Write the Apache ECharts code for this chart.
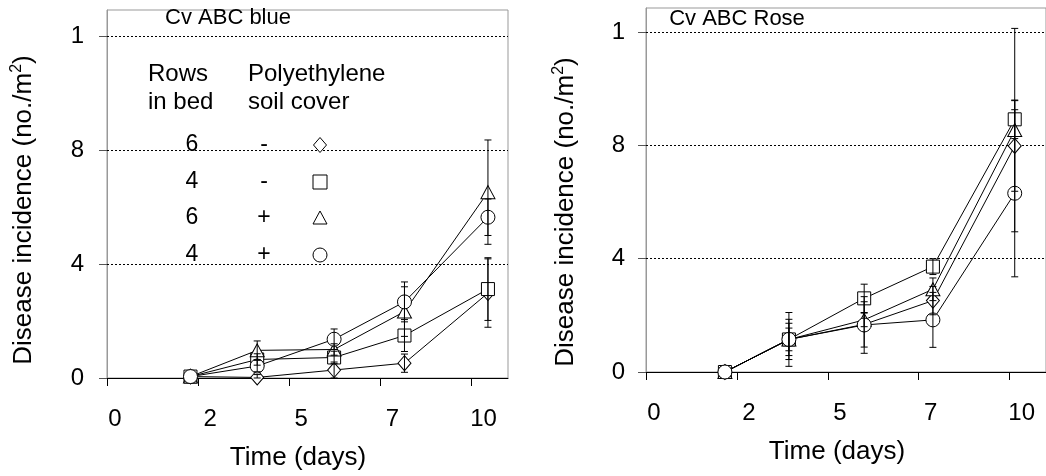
<!DOCTYPE html>
<html>
<head>
<meta charset="utf-8">
<script src="https://cdn.jsdelivr.net/npm/echarts@6/dist/echarts.min.js"></script>
<style>
html,body{margin:0;padding:0;background:#fff;}
#c{width:1046px;height:476px;}
</style>
</head>
<body>
<div id="c"></div>
<script>
// ---- tick labels ----
const xTickValues = [0, 2.5, 5, 7.5, 10];
const xTickLabels = ['0', '2', '5', '7', '10'];
const yTickValues = [0, 4, 8, 12];
const yTickLabels = ['0', '4', '8', '1'];
const gridValues = [4, 8, 12];

// ---- legend table ----
const legendRows = ['6', '4', '6', '4'];
const legendCover = ['-', '-', '+', '+'];
const seriesNames = ['6 rows, no cover', '4 rows, no cover', '6 rows, cover', '4 rows, cover'];

// ---- Cv ABC blue ----
const blueDays = [2.29, 4.12, 6.23, 8.16, 10.45];
const blue6minus = [0.05, 0.02, 0.28, 0.52, 2.98];
const blue6minusErr = [0, 0.1, 0.28, 0.32, 1.2];
const blue4minus = [0.05, 0.65, 0.72, 1.49, 3.12];
const blue4minusErr = [0, 0.2, 0.22, 0.56, 1.1];
const blue6plus = [0.05, 0.97, 1.0, 2.33, 6.52];
const blue6plusErr = [0, 0.33, 0.2, 0.87, 1.83];
const blue4plus = [0.05, 0.42, 1.36, 2.67, 5.64];
const blue4plusErr = [0, 0.2, 0.36, 0.7, 0.64];

// ---- Cv ABC Rose ----
const roseDays = [2.17, 3.93, 6.0, 7.89, 10.14];
const rose6minus = [0, 1.15, 1.68, 2.52, 7.98];
const rose6minusErr = [0, 0.57, 0.8, 0.5, 1.6];
const rose4minus = [0, 1.15, 2.6, 3.72, 8.92];
const rose4minusErr = [0, 0.71, 0.5, 0.28, 0.68];
const rose6plus = [0, 1.15, 1.84, 2.92, 8.54];
const rose6plusErr = [0, 0.95, 0.24, 0.4, 3.59];
const rose4plus = [0, 1.15, 1.66, 1.84, 6.31];
const rose4plusErr = [0, 0.4, 1.0, 0.97, 2.95];

const FONT = 'Liberation Sans, Arial, sans-serif';
const symbols = ['diamond', 'rect', 'triangle', 'circle'];
const symbolSizes = [[13, 15], 13, [14, 13], 14];

const chart = echarts.init(document.getElementById('c'), null, {renderer: 'canvas'});

function xAxis(idx) {
  return {
    gridIndex: idx, type: 'value', min: 0, max: 11,
    axisLine: {show: true, onZero: false, lineStyle: {color: '#000', width: 1}},
    axisTick: {show: true, customValues: xTickValues, length: 8, inside: false, lineStyle: {color: '#000'}},
    axisLabel: {
      customValues: xTickValues, margin: 29,
      formatter: v => {
        const i = xTickValues.indexOf(v);
        const t = i >= 0 ? xTickLabels[i] : '';
        return v === 0 ? '{a|' + t + '}' : '{b|' + t + '}';
      },
      rich: {
        a: {fontSize: 24, fontFamily: FONT, color: '#000', padding: [0, 0, 0, 16]},
        b: {fontSize: 24, fontFamily: FONT, color: '#000', padding: [0, 0, 0, 24]}
      }
    },
    splitLine: {show: false}
  };
}
function yAxis(idx, max) {
  return {
    gridIndex: idx, type: 'value', min: 0, max: max,
    axisLine: {show: true, lineStyle: {color: '#999', width: 1}},
    axisTick: {show: true, customValues: yTickValues, length: 8, lineStyle: {color: '#555'}},
    axisLabel: {
      customValues: yTickValues, margin: idx === 0 ? 23 : 21,
      fontSize: 24, fontFamily: FONT, color: '#000',
      formatter: v => { const i = yTickValues.indexOf(v); return i >= 0 ? yTickLabels[i] : ''; }
    },
    splitLine: {show: false}
  };
}

function lineSeries(idx, name, k, days, vals, withGrid) {
  const s = {
    type: 'line', name: name, xAxisIndex: idx, yAxisIndex: idx,
    data: days.map((d, i) => [d, vals[i]]),
    symbol: symbols[k], symbolSize: symbolSizes[k], showSymbol: true,
    itemStyle: {color: '#fff', borderColor: '#000', borderWidth: 1},
    lineStyle: {color: '#000', width: 1},
    z: 3, animation: false, silent: true
  };
  if (withGrid) {
    s.markLine = {
      silent: true, symbol: ['none', 'none'], label: {show: false},
      lineStyle: {color: '#000', type: [2, 2], width: 1},
      data: gridValues.map(v => ({yAxis: v})), z: 1, animation: false
    };
  }
  return s;
}
function errSeries(idx, days, vals, errs) {
  return {
    type: 'custom', xAxisIndex: idx, yAxisIndex: idx, z: 4, animation: false, silent: true,
    data: days.map((d, i) => [d, Math.max(0, vals[i] - errs[i]), vals[i] + errs[i], errs[i]]),
    renderItem: (params, api) => {
      if (api.value(3) <= 0) return null;
      const lo = api.coord([api.value(0), api.value(1)]);
      const hi = api.coord([api.value(0), api.value(2)]);
      const x = lo[0], w = 3.5;
      const st = {stroke: '#000', lineWidth: 1};
      return {type: 'group', children: [
        {type: 'line', shape: {x1: x, y1: lo[1], x2: x, y2: hi[1]}, style: st},
        {type: 'line', shape: {x1: x - w, y1: hi[1], x2: x + w, y2: hi[1]}, style: st},
        {type: 'line', shape: {x1: x - w, y1: lo[1], x2: x + w, y2: lo[1]}, style: st}
      ]};
    }
  };
}

const blueSets = [[blue6minus, blue6minusErr], [blue4minus, blue4minusErr], [blue6plus, blue6plusErr], [blue4plus, blue4plusErr]];
const roseSets = [[rose6minus, rose6minusErr], [rose4minus, rose4minusErr], [rose6plus, rose6plusErr], [rose4plus, rose4plusErr]];

const series = [];
blueSets.forEach((s, k) => series.push(lineSeries(0, seriesNames[k], k, blueDays, s[0], k === 0)));
roseSets.forEach((s, k) => series.push(lineSeries(1, seriesNames[k], k, roseDays, s[0], k === 0)));
blueSets.forEach((s, k) => series.push(errSeries(0, blueDays, s[0], s[1])));
roseSets.forEach((s, k) => series.push(errSeries(1, roseDays, s[0], s[1])));

function txt(x, y, text, size, align, extra) {
  return Object.assign({
    type: 'text', x: x, y: y, z: 10, silent: true,
    style: {text: text, fontSize: size, fontFamily: FONT, fill: '#000',
      align: align || 'center', textAlign: align || 'center',
      verticalAlign: 'middle', textVerticalAlign: 'middle'}
  }, extra || {});
}
function yTitle(x, y) {
  return {
    type: 'text', x: x, y: y, rotation: Math.PI / 2, z: 10, silent: true,
    style: {
      text: '{t|Disease incidence (no./m}{s|2}{t|)}',
      align: 'center', textAlign: 'center', verticalAlign: 'middle', textVerticalAlign: 'middle',
      fill: '#000',
      rich: {
        t: {fontSize: 26, fontFamily: FONT, fill: '#000', color: '#000', lineHeight: 30},
        s: {fontSize: 16, fontFamily: FONT, fill: '#000', color: '#000', verticalAlign: 'top', lineHeight: 30, padding: [0, 0, 12, 0]}
      }
    }
  };
}

const graphics = [
  txt(228, 18, 'Cv ABC blue', 22),
  txt(737, 19, 'Cv ABC Rose', 22),
  txt(298, 458, 'Time (days)', 26),
  txt(837, 452, 'Time (days)', 26),
  yTitle(24, 210),
  yTitle(566, 212),
  txt(148, 74, 'Rows', 24, 'left'),
  txt(148, 102, 'in bed', 24, 'left'),
  txt(248, 74, 'Polyethylene', 24, 'left'),
  txt(248, 102, 'soil cover', 24, 'left')
];
const legendY = [145, 182, 218, 255];
legendRows.forEach((r, i) => {
  graphics.push(txt(192, legendY[i], r, 23));
  graphics.push(txt(264, legendY[i], legendCover[i], 23));
});
const symStyle = {fill: '#fff', stroke: '#000', lineWidth: 1};
const sx = 320;
graphics.push({type: 'polygon', z: 10, silent: true, shape: {points: [[sx, legendY[0] - 7.5], [sx + 6.5, legendY[0]], [sx, legendY[0] + 7.5], [sx - 6.5, legendY[0]]]}, style: symStyle});
graphics.push({type: 'rect', z: 10, silent: true, shape: {x: sx - 7, y: legendY[1] - 7, width: 14, height: 14}, style: symStyle});
graphics.push({type: 'polygon', z: 10, silent: true, shape: {points: [[sx, legendY[2] - 7], [sx + 7, legendY[2] + 6], [sx - 7, legendY[2] + 6]]}, style: symStyle});
graphics.push({type: 'circle', z: 10, silent: true, shape: {cx: sx, cy: legendY[3], r: 7}, style: symStyle});

chart.setOption({
  animation: false,
  backgroundColor: '#fff',
  textStyle: {fontFamily: FONT},
  grid: [
    {left: 107, top: 10, width: 401, height: 368, show: true, borderColor: '#999', borderWidth: 1, backgroundColor: 'transparent'},
    {left: 646, top: 8, width: 409, height: 364, show: true, borderColor: '#999', borderWidth: 1, backgroundColor: 'transparent'}
  ],
  xAxis: [xAxis(0), xAxis(1)],
  yAxis: [yAxis(0, 12.91), yAxis(1, 12.85)],
  series: series,
  graphic: graphics
});
</script>
</body>
</html>
